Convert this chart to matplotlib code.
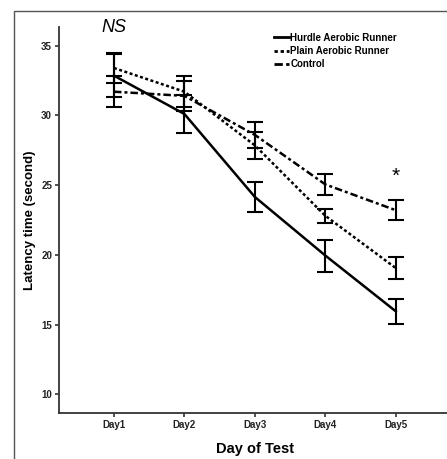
import matplotlib
matplotlib.use("Agg")
import matplotlib.pyplot as plt
from matplotlib.patches import Rectangle
from matplotlib.lines import Line2D

plt.rcParams["font.family"] = ["Liberation Sans", "DejaVu Sans"]

days = ["Day1", "Day2", "Day3", "Day4", "Day5"]
hurdle = [32.85, 30.1, 24.15, 19.95, 15.95]
hurdle_err = [1.55, 1.35, 1.05, 1.15, 0.9]
plain = [33.4, 31.7, 27.85, 22.8, 19.05]
plain_err = [1.1, 1.1, 0.95, 0.5, 0.8]
control = [31.7, 31.4, 28.6, 25.05, 23.2]
control_err = [1.1, 1.1, 0.95, 0.75, 0.7]

styles = {
    "Hurdle Aerobic Runner": "-",
    "Plain Aerobic Runner": (0, (1.2, 1.0)),
    "Control": (0, (3.0, 1.2, 1.2, 1.2)),
}

fig = plt.figure(figsize=(4.47, 4.59), dpi=100)
fig.patches.append(Rectangle((14 / 447, -0.1), 1.2, 1 - 11 / 459 + 0.1,
                             transform=fig.transFigure, fill=False,
                             edgecolor="#555555", linewidth=1.0))

ax = fig.add_axes([59 / 447, 46.3 / 459, 1 - 59 / 447 + 0.01, (412.7 - 27) / 459])
x = list(range(len(days)))

err_kw = dict(color="black", elinewidth=1.5, capsize=6, capthick=1.5, linewidth=1.8)
ax.errorbar(x, hurdle, yerr=hurdle_err, linestyle=styles["Hurdle Aerobic Runner"], **err_kw)
ax.errorbar(x, plain, yerr=plain_err, linestyle=styles["Plain Aerobic Runner"], **err_kw)
ax.errorbar(x, control, yerr=control_err, linestyle=styles["Control"], **err_kw)

ax.set_xlim(-0.78, 4.79)
ax.set_ylim(8.68, 36.34)
ax.set_xticks(x)
ax.set_xticklabels(days)
ax.set_yticks([10, 15, 20, 25, 30, 35])

for side in ["top", "right"]:
    ax.spines[side].set_visible(False)
for side in ["left", "bottom"]:
    ax.spines[side].set_color("#333333")
    ax.spines[side].set_linewidth(1.3)
ax.tick_params(axis="both", length=3, width=1.2, color="#333333",
               labelsize=7, pad=2)
for lbl in ax.get_xticklabels() + ax.get_yticklabels():
    lbl.set_fontweight("bold")
    lbl.set_color("#222222")

ax.set_xlabel("Day of Test", fontsize=10.5, fontweight="bold", labelpad=9)
ax.set_ylabel("Latency time (second)", fontsize=9.5, fontweight="bold", labelpad=4)

handles = [Line2D([], [], color="black", linestyle=ls, linewidth=2) for ls in styles.values()]
ax.legend(handles, list(styles.keys()), loc="upper left",
          bbox_to_anchor=(0.525, 1.008), frameon=False,
          handlelength=1.6, handletextpad=0.1, labelspacing=0.35,
          prop=dict(size=7, weight="bold"))

ax.text(0, 36.3, "NS", fontsize=13, style="italic", ha="center", va="center", clip_on=False)
ax.text(4, 25.6, "*", fontsize=15, ha="center", va="center")

fig.savefig("out.png", dpi=100)
